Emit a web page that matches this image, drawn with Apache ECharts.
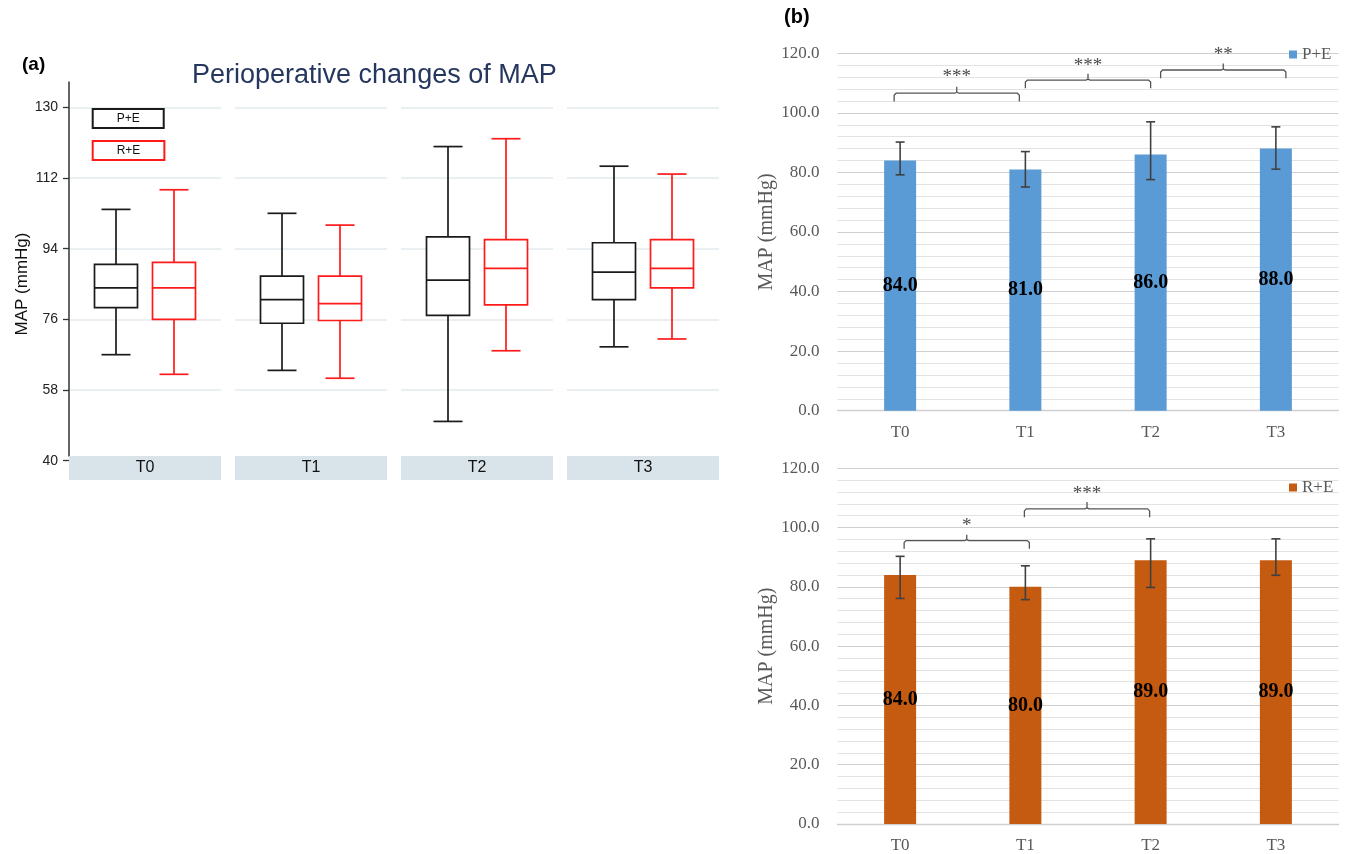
<!DOCTYPE html>
<html><head><meta charset="utf-8">
<script src="https://cdn.jsdelivr.net/npm/echarts@6/dist/echarts.min.js"></script>
<style>html,body{margin:0;padding:0;background:#fff}#c{width:1346px;height:854px}</style>
</head><body><div id="c"></div>
<script>
// ---------- data ----------
const timepoints = ['T0', 'T1', 'T2', 'T3'];
const groups = ['P+E', 'R+E'];
// panel (a) box plots: [min, Q1, median, Q3, max]
const boxPE = [[67, 79, 84, 90, 104], [63, 75, 81, 87, 103], [50, 77, 86, 97, 120], [69, 81, 88, 95.5, 115]];
const boxRE = [[62, 76, 84, 90.5, 109], [61, 75.7, 80, 87, 100], [68, 79.7, 89, 96.3, 122], [71, 84, 89, 96.3, 113]];
const mapAxisMin = 40, mapAxisMax = 130, mapAxisStep = 18;
// panel (b) bars with error bars
const barPE = [84.0, 81.0, 86.0, 88.0];
const errPELow = [79.2, 75.1, 77.6, 81.1];
const errPEHigh = [90.2, 87.0, 97.0, 95.3];
const barRE = [84.0, 80.0, 89.0, 89.0];
const errRELow = [76.1, 75.7, 79.8, 83.9];
const errREHigh = [90.3, 87.1, 96.2, 96.2];
const barAxisMin = 0, barAxisMax = 120, barAxisStep = 20;
// significance brackets: [fromIndex, toIndex, endValue, lineValue, tipValue, textValue]
const sigPE = [[0, 1, 103.8, 106.6, 108.8, 112.7], [1, 2, 108.3, 111.0, 113.1, 116.3], [2, 3, 111.6, 114.4, 116.6, 120.0]];
const sigPELabels = ['***', '***', '**'];
const sigRE = [[0, 1, 92.9, 95.6, 97.6, 101.2], [1, 2, 103.5, 106.3, 108.6, 112.1]];
const sigRELabels = ['*', '***'];

// ---------- layout / style ----------
const SANS = 'Liberation Sans', SERIF = 'Liberation Serif';
const facetLeft = [69, 235, 401, 567], facetW = 152;
const facetTop = 107.3, facetBottom = 854 - 460.7;
const boxColors = ['#1a1a1a', '#ff1a1a'];
const boxOffsets = [-29, 29];
const sigShiftPE = [-6, 0, 10], sigShiftRE = [4, -1];

function boxRender(offset, color) {
  return function (params, api) {
    const c = api.value(0);
    const x = api.coord([c, api.value(3)])[0] + offset;
    const y = k => api.coord([c, api.value(k)])[1];
    const yMin = y(1), yQ1 = y(2), yMed = y(3), yQ3 = y(4), yMax = y(5);
    const bw = 21.5, cw = 14.5;
    const st = { stroke: color, lineWidth: 1.7 };
    return { type: 'group', children: [
      { type: 'line', shape: { x1: x, y1: yQ3, x2: x, y2: yMax }, style: st },
      { type: 'line', shape: { x1: x - cw, y1: yMax, x2: x + cw, y2: yMax }, style: st },
      { type: 'line', shape: { x1: x, y1: yQ1, x2: x, y2: yMin }, style: st },
      { type: 'line', shape: { x1: x - cw, y1: yMin, x2: x + cw, y2: yMin }, style: st },
      { type: 'rect', shape: { x: x - bw, y: yQ3, width: 2 * bw, height: yQ1 - yQ3 }, style: { stroke: color, lineWidth: 1.7, fill: '#fff' } },
      { type: 'line', shape: { x1: x - bw, y1: yMed, x2: x + bw, y2: yMed }, style: st }
    ] };
  };
}
function errRender(params, api) {
  const c = api.value(0);
  const lo = api.coord([c, api.value(1)]), hi = api.coord([c, api.value(2)]);
  const hw = 4.5, st = { stroke: '#404040', lineWidth: 1.6 };
  return { type: 'group', children: [
    { type: 'line', shape: { x1: lo[0], y1: lo[1], x2: hi[0], y2: hi[1] }, style: st },
    { type: 'line', shape: { x1: lo[0] - hw, y1: lo[1], x2: lo[0] + hw, y2: lo[1] }, style: st },
    { type: 'line', shape: { x1: hi[0] - hw, y1: hi[1], x2: hi[0] + hw, y2: hi[1] }, style: st }
  ] };
}
function sigRender(labels, shifts) {
  return function (params, api) {
    const i = params.dataIndex;
    const a = api.coord([api.value(0), api.value(2)]);
    const b = api.coord([api.value(1), api.value(2)]);
    const yl = api.coord([api.value(0), api.value(3)])[1];
    const yt = api.coord([api.value(0), api.value(4)])[1];
    const ys = api.coord([api.value(0), api.value(5)])[1];
    const s = shifts[i];
    const x1 = a[0] + s, x2 = b[0] + s, xm = (x1 + x2) / 2;
    const st = { stroke: '#555', lineWidth: 1.3, fill: null };
    return { type: 'group', children: [
      { type: 'polyline', shape: { points: [[x1, a[1]], [x1, yl + 2], [x1 + 2, yl], [xm - 2, yl], [xm, yl - 1], [xm, yt]] }, style: st },
      { type: 'polyline', shape: { points: [[xm, yl - 1], [xm + 2, yl], [x2 - 2, yl], [x2, yl + 2], [x2, b[1]]] }, style: st },
      { type: 'text', x: xm, y: ys + 2, style: { text: labels[i], fontFamily: SERIF, fontSize: 19, fill: '#4a4a4a', align: 'center', verticalAlign: 'middle' } }
    ] };
  };
}

const grid = [], xAxis = [], yAxis = [], series = [];
timepoints.forEach((t, i) => {
  grid.push({ left: facetLeft[i], width: facetW, top: facetTop, bottom: facetBottom });
  xAxis.push({ type: 'category', gridIndex: i, data: [t], z: 5,
    axisLine: { show: false }, axisTick: { show: false }, splitLine: { show: false },
    axisLabel: { fontFamily: SANS, fontSize: 16, color: '#111', backgroundColor: '#d9e4ea',
      width: facetW, align: 'center', padding: [4, 0, 4, 0], lineHeight: 16, margin: -4.7 } });
  yAxis.push({ type: 'value', gridIndex: i, min: mapAxisMin, max: mapAxisMax, interval: mapAxisStep,
    axisLine: { show: false },
    axisTick: { show: i === 0, length: 6, lineStyle: { color: '#333', width: 1.3 } },
    axisLabel: { show: i === 0, fontFamily: SANS, fontSize: 14, color: '#222', margin: 11 },
    splitLine: { show: true, lineStyle: { color: '#e3ebee', width: 1.5 } },
    name: i === 0 ? 'MAP (mmHg)' : '', nameLocation: 'middle', nameGap: 38,
    nameTextStyle: { fontFamily: SANS, fontSize: 17, color: '#111' } });
  [boxPE, boxRE].forEach((arr, g) => {
    series.push({ type: 'custom', name: groups[g], xAxisIndex: i, yAxisIndex: i,
      itemStyle: { color: boxColors[g] },
      data: [[0].concat(arr[i])], encode: { x: 0, y: [1, 2, 3, 4, 5] },
      renderItem: boxRender(boxOffsets[g], boxColors[g]) });
  });
});
// axis line for panel (a)
grid.push({ left: 69, width: 1, top: 82, bottom: 854 - 456 });
xAxis.push({ type: 'value', gridIndex: 4, show: false });
yAxis.push({ type: 'value', gridIndex: 4, min: 0, max: 1, axisLine: { show: true, lineStyle: { color: '#333', width: 1.5 } },
  axisTick: { show: false }, axisLabel: { show: false }, splitLine: { show: false } });

// panel (b)
const bGrids = [{ top: 53.3, bottom: 854 - 410.7 }, { top: 468.3, bottom: 854 - 825 }];
const bSets = [
  { name: 'P+E', color: '#5b9bd5', bars: barPE, lo: errPELow, hi: errPEHigh, sig: sigPE, labels: sigPELabels, shifts: sigShiftPE },
  { name: 'R+E', color: '#c55a11', bars: barRE, lo: errRELow, hi: errREHigh, sig: sigRE, labels: sigRELabels, shifts: sigShiftRE }
];
bSets.forEach((s, k) => {
  const gi = 5 + k;
  grid.push({ left: 837.5, right: 7.5, top: bGrids[k].top, bottom: bGrids[k].bottom });
  xAxis.push({ type: 'category', gridIndex: gi, data: timepoints,
    axisLine: { lineStyle: { color: '#d0d0d0', width: 1.3 } }, axisTick: { show: false },
    axisLabel: { fontFamily: SERIF, fontSize: 17, color: '#595959', margin: 13 } });
  yAxis.push({ type: 'value', gridIndex: gi, min: barAxisMin, max: barAxisMax, interval: barAxisStep,
    axisLine: { show: false }, axisTick: { show: false },
    axisLabel: { fontFamily: SERIF, fontSize: 17, color: '#595959', margin: 18, formatter: v => v.toFixed(1) },
    splitLine: { lineStyle: { color: '#cfcfcf', width: 1.2 } },
    minorTick: { show: false, splitNumber: 5 },
    minorSplitLine: { show: true, lineStyle: { color: '#e2e2e2', width: 1 } },
    name: 'MAP (mmHg)', nameLocation: 'middle', nameGap: 61,
    nameTextStyle: { fontFamily: SERIF, fontSize: 20, color: '#595959' } });
  series.push({ type: 'bar', name: s.name, xAxisIndex: gi, yAxisIndex: gi, data: s.bars, barWidth: 32,
    itemStyle: { color: s.color },
    label: { show: true, position: 'inside', formatter: p => p.value.toFixed(1),
      fontFamily: SERIF, fontWeight: 'bold', fontSize: 20, color: '#000' } });
  series.push({ type: 'custom', name: s.name + ' error', xAxisIndex: gi, yAxisIndex: gi, z: 4,
    data: timepoints.map((t, i) => [i, s.lo[i], s.hi[i]]), encode: { x: 0, y: [1, 2] }, renderItem: errRender });
  series.push({ type: 'custom', name: s.name + ' sig', xAxisIndex: gi, yAxisIndex: gi, z: 4,
    data: s.sig, encode: { x: [0, 1], y: [2, 3, 4, 5] }, renderItem: sigRender(s.labels, s.shifts) });
});

const option = {
  animation: false,
  backgroundColor: '#fff',
  title: [
    { text: '(a)', left: 22, top: 55, padding: 0, textStyle: { fontFamily: SANS, fontWeight: 'bold', fontSize: 19, color: '#000' } },
    { text: '(b)', left: 784, top: 7, padding: 0, textStyle: { fontFamily: SANS, fontWeight: 'bold', fontSize: 20, color: '#000' } },
    { text: 'Perioperative changes of MAP', left: 192, top: 62, padding: 0, textStyle: { fontFamily: SANS, fontWeight: 'normal', fontSize: 27, color: '#26375f' } }
  ],
  legend: [
    { selectedMode: false, orient: 'vertical', left: 87.7, top: 108, padding: 0, itemWidth: 0, itemHeight: 19, itemGap: 11,
      data: [{ name: 'P+E', textStyle: { borderColor: boxColors[0] } }, { name: 'R+E', textStyle: { borderColor: boxColors[1] } }],
      textStyle: { fontFamily: SANS, fontSize: 12, color: '#111', borderWidth: 2, padding: [3, 24, 3, 24], lineHeight: 13 } },
    { selectedMode: false, left: 1289, top: 46, padding: 0, itemWidth: 8, itemHeight: 8,
      data: [{ name: 'P+E', icon: 'rect', itemStyle: { color: '#5b9bd5' } }],
      textStyle: { fontFamily: SERIF, fontSize: 17, color: '#595959' } },
    { selectedMode: false, left: 1289, top: 479, padding: 0, itemWidth: 8, itemHeight: 8,
      data: [{ name: 'R+E', icon: 'rect', itemStyle: { color: '#c55a11' } }],
      textStyle: { fontFamily: SERIF, fontSize: 17, color: '#595959' } }
  ],
  grid, xAxis, yAxis, series
};
const chart = echarts.init(document.getElementById('c'), null, { renderer: 'canvas' });
chart.setOption(option);
</script></body></html>
